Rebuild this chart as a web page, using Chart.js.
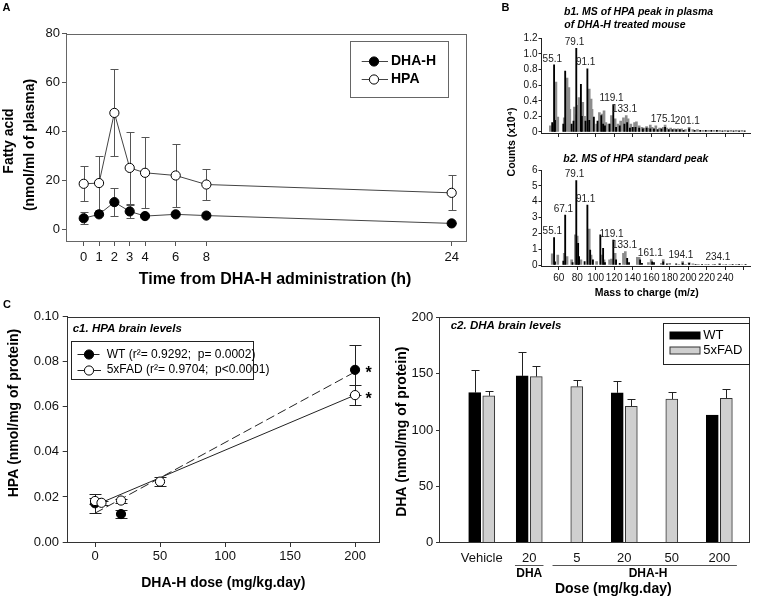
<!DOCTYPE html>
<html>
<head>
<meta charset="utf-8">
<script src="https://cdn.jsdelivr.net/npm/chart.js@4.4.0/dist/chart.umd.min.js"></script>
<style>
  body { margin: 0; background: #fff; }
  #fig { position: relative; width: 758px; height: 598px; overflow: hidden; font-family: 'Liberation Sans', Arial, sans-serif; }
  #fig canvas { position: absolute; }
  .tag { position: absolute; font-weight: bold; font-size: 11px; line-height: 11px; }
</style>
</head>
<body>
<div id="fig">
  <canvas id="panelA"></canvas>
  <canvas id="panelB1"></canvas>
  <canvas id="panelB2"></canvas>
  <canvas id="panelC1"></canvas>
  <canvas id="panelC2"></canvas>
  <div class="tag" style="left:2.5px;top:1.5px">A</div>
  <div class="tag" style="left:501.5px;top:1.5px">B</div>
  <div class="tag" style="left:3px;top:298.7px">C</div>
</div>
<script>
// --- A: plasma levels after DHA-H ---
const timeHours = [0, 1, 2, 3, 4, 6, 8, 24];
const dhahPlasma = [4.5, 6.1, 11.1, 7.3, 5.4, 6.1, 5.6, 2.4];
const dhahPlasmaSd = [2.5, 0, 5.8, 2.8, 0, 0, 0, 0];
const hpaPlasma = [18.6, 18.9, 47.6, 25.1, 23.1, 22.0, 18.3, 14.9];
const hpaPlasmaSd = [7.1, 11.2, 17.8, 14.8, 14.5, 12.7, 6.4, 7.1];
const plasmaTicks = [0, 20, 40, 60, 80];

// --- B: mass spectra, [m/z, counts x10^4] ---
const b1Black = [[53,0.12],[55,0.86],[56,0.15],[65,0.10],[67,0.78],[74,0.10],[76,0.14],[79,1.07],[84,0.61],[85,0.20],
  [89,0.14],[91,0.81],[93,0.15],[98,0.19],[102,0.14],[106,0.21],[108,0.10],[110,0.08],[115,0.10],[119,0.35],[122,0.06],
  [126,0.08],[131,0.10],[134,0.12],[137,0.05],[140,0.06],[143,0.06],[147,0.05],[151,0.04],[155,0.05],[159,0.04],[163,0.04],
  [167,0.03],[171,0.04],[175,0.06],[179,0.03],[183,0.03],[187,0.03],[191,0.03],[195,0.02],[201,0.04],[207,0.02],[213,0.02],
  [219,0.02],[225,0.02],[231,0.02],[237,0.015],[243,0.015],[249,0.015],[255,0.015],[261,0.015]];
const b1Grey = [[51,0.08],[54,0.10],[57,0.64],[59,0.19],[66,0.18],[69,0.69],[71,0.57],[72,0.29],[77,0.32],[78,0.22],
  [81,0.34],[82,0.44],[86,0.38],[88,0.20],[93,0.55],[95,0.42],[96,0.29],[101,0.10],[104,0.25],[107,0.23],[109,0.27],
  [111,0.12],[114,0.10],[117,0.21],[121,0.17],[124,0.10],[127,0.14],[130,0.18],[133,0.21],[135,0.17],[138,0.10],[142,0.12],
  [144,0.13],[147,0.08],[150,0.06],[152,0.05],[155,0.07],[157,0.05],[159,0.09],[161,0.06],[165,0.08],[169,0.05],[173,0.06],
  [175,0.09],[177,0.05],[181,0.05],[185,0.04],[189,0.04],[193,0.04],[197,0.03],[201,0.06],[205,0.03],[210,0.03],[216,0.02],
  [222,0.02],[228,0.02],[234,0.02],[240,0.02],[246,0.02],[252,0.02],[258,0.02]];
const b2Black = [[55,1.73],[56,0.20],[65,0.25],[67,3.16],[75,0.15],[79,5.33],[81,1.37],[82,0.53],[88,0.21],[91,3.79],
  [94,0.95],[97,0.32],[105,1.90],[108,1.05],[110,0.15],[119,1.58],[122,0.32],[126,0.10],[134,0.42],[136,0.15],[148,0.32],
  [150,0.10],[161,0.20],[163,0.15],[173,0.20],[177,0.08],[187,0.08],[194,0.12],[201,0.10],[208,0.05],[215,0.04],[222,0.03],
  [229,0.03],[234,0.06],[241,0.03],[248,0.02],[255,0.02],[262,0.02]];
const b2Grey = [[53,0.70],[59,0.63],[66,0.74],[69,0.53],[74,0.32],[78,1.90],[80,1.83],[84,0.32],[93,2.27],[95,0.63],
  [101,0.21],[107,0.63],[109,0.32],[115,0.32],[117,0.38],[121,0.74],[130,0.74],[132,0.84],[145,0.48],[147,0.48],[157,0.15],
  [160,0.35],[171,0.10],[173,0.35],[180,0.10],[190,0.05],[194,0.22],[197,0.05],[201,0.15],[205,0.07],[211,0.04],[219,0.04],
  [227,0.04],[234,0.08],[238,0.03],[245,0.03],[252,0.02],[258,0.03]];
const b1PeakLabels = ['55.1', '79.1', '91.1', '119.1', '133.1', '175.1', '201.1'];
const b2PeakLabels = ['55.1', '67.1', '79.1', '91.1', '119.1', '133.1', '161.1', '194.1', '234.1'];
const mzTicks = [60, 80, 100, 120, 140, 160, 180, 200, 220, 240, 260];
const b1Ticks = [0, 0.2, 0.4, 0.6, 0.8, 1.0, 1.2];
const b2Ticks = [0, 1, 2, 3, 4, 5, 6];

// --- C1: HPA brain levels vs dose ---
const wtDose = [0, 20, 200];
const wtHpa = [0.0172, 0.0124, 0.0764];
const wtHpaSem = [0.0043, 0.0019, 0.0111];
const wtSignif = [false, false, true];
const fadDose = [0, 5, 20, 50, 200];
const fadHpa = [0.0182, 0.0174, 0.0184, 0.0268, 0.0652];
const fadHpaSem = [0.0015, 0.0008, 0.0009, 0.0020, 0.0045];
const fadSignif = [false, false, false, false, true];
const fitDose = [0, 200];
const wtFit = [0.0128, 0.0755];
const fadFit = [0.0163, 0.0652];
const hpaTicks = [0, 0.02, 0.04, 0.06, 0.08, 0.10];
const doseTicks = [0, 50, 100, 150, 200];

// --- C2: DHA brain levels ---
const doseLabels = ['Vehicle', '20', '5', '20', '50', '200'];
const doseGroups = ['', 'DHA', 'DHA-H', 'DHA-H', 'DHA-H', 'DHA-H'];
const wtDha = [133.2, 148.0, null, 133.0, null, 113.2];
const wtDhaSem = [19.6, 21.6, null, 10.9, null, 0];
const fadDha = [130.3, 147.4, 138.5, 121.1, 127.4, 128.2];
const fadDhaSem = [4.2, 9.6, 5.7, 6.3, 6.4, 8.0];
const dhaTicks = [0, 50, 100, 150, 200];

const FONT = "'Liberation Sans', Arial, Helvetica, sans-serif";
const bold = s => `bold ${s}px ${FONT}`;
const boldItalic = s => `italic bold ${s}px ${FONT}`;
const plain = s => `${s}px ${FONT}`;
const UP = -Math.PI / 2;
Chart.defaults.font.family = FONT;

// error bars from dataset.errors, drawn behind the marks
Chart.register({
  id: 'errorBars',
  beforeDatasetsDraw(chart) {
    const ctx = chart.ctx, ys = chart.scales.y;
    chart.data.datasets.forEach((ds, i) => {
      if (!ds.errors) return;
      const meta = chart.getDatasetMeta(i);
      ctx.save();
      ctx.strokeStyle = ds.errorColor || '#000';
      ctx.lineWidth = 1;
      ctx.beginPath();
      meta.data.forEach((el, j) => {
        const v = ds.data[j].y, e = ds.errors[j];
        if (v == null || e == null) return;
        const x = Math.round(el.x) + 0.5;
        const top = Math.round(ys.getPixelForValue(v + e)) + 0.5;
        const bot = ds.upOnly ? el.y : Math.round(ys.getPixelForValue(v - e)) + 0.5;
        const c = ds.capHalf || 4;
        ctx.moveTo(x, top); ctx.lineTo(x, bot);
        ctx.moveTo(x - c, top); ctx.lineTo(x + c, top);
        if (!ds.upOnly) { ctx.moveTo(x - c, bot); ctx.lineTo(x + c, bot); }
      });
      ctx.stroke();
      ctx.restore();
    });
  }
});

// free text placed in page coordinates
const notes = items => ({
  id: 'notes',
  afterDraw(chart) {
    const ctx = chart.ctx, ox = chart.canvas.offsetLeft, oy = chart.canvas.offsetTop;
    items.forEach(n => {
      ctx.save();
      ctx.translate(n.x - ox, n.y - oy);
      if (n.rot) ctx.rotate(n.rot);
      ctx.font = n.font;
      ctx.fillStyle = '#000';
      ctx.textAlign = n.align || 'center';
      ctx.textBaseline = 'middle';
      ctx.fillText(n.text, 0, 0);
      ctx.restore();
    });
  }
});

const frame = color => ({
  id: 'frame',
  afterDatasetsDraw(chart) {
    const { left, top, right, bottom } = chart.chartArea, ctx = chart.ctx;
    ctx.save();
    ctx.strokeStyle = color;
    ctx.lineWidth = 1;
    ctx.strokeRect(Math.round(left) - 0.5, Math.round(top) + 0.5, Math.round(right - left), Math.round(bottom - top));
    ctx.restore();
  }
});

// boxed legend; text and styles come from the datasets
const boxLegend = spec => ({
  id: 'boxLegend',
  afterDraw(chart) {
    const ctx = chart.ctx, ox = chart.canvas.offsetLeft, oy = chart.canvas.offsetTop;
    const [bx, by, bw, bh] = spec.box;
    ctx.save();
    ctx.translate(-ox, -oy);
    ctx.fillStyle = '#fff';
    ctx.fillRect(bx, by, bw, bh);
    ctx.strokeStyle = spec.color;
    ctx.lineWidth = 1;
    ctx.strokeRect(Math.round(bx) + 0.5, Math.round(by) + 0.5, Math.round(bw), Math.round(bh));
    ctx.font = spec.font;
    ctx.textAlign = 'left';
    ctx.textBaseline = 'middle';
    spec.rows.forEach(r => {
      const ds = chart.data.datasets[r.ds];
      const y = Math.round(r.y) + 0.5;
      if (spec.swatch) {
        ctx.fillStyle = ds.backgroundColor;
        ctx.fillRect(spec.x0, y - spec.swatch / 2, spec.x1 - spec.x0, spec.swatch);
        ctx.strokeStyle = ds.borderColor;
        ctx.strokeRect(spec.x0, y - spec.swatch / 2, spec.x1 - spec.x0, spec.swatch);
      } else {
        const ls = chart.data.datasets[r.line != null ? r.line : r.ds];
        ctx.strokeStyle = ls.borderColor;
        ctx.setLineDash(ls.borderDash || []);
        ctx.beginPath(); ctx.moveTo(spec.x0, y); ctx.lineTo(spec.x1, y); ctx.stroke();
        ctx.setLineDash([]);
        ctx.beginPath();
        ctx.arc(spec.xm, y, ds.pointRadius, 0, 2 * Math.PI);
        ctx.fillStyle = ds.pointBackgroundColor; ctx.fill();
        ctx.strokeStyle = ds.pointBorderColor; ctx.stroke();
      }
      ctx.fillStyle = '#000';
      ctx.fillText(ds.label, spec.tx, r.y);
    });
    ctx.restore();
  }
});

// m/z labels above the tallest stick near each labelled mass
const peakLabels = (labels, sets) => ({
  id: 'peakLabels',
  afterDatasetsDraw(chart) {
    const xs = chart.scales.x, ys = chart.scales.y, ctx = chart.ctx;
    ctx.save();
    ctx.font = plain(10);
    ctx.fillStyle = '#222';
    ctx.textAlign = 'center';
    ctx.textBaseline = 'bottom';
    labels.forEach(t => {
      const mz = parseFloat(t);
      let h = 0;
      sets.forEach(s => s.forEach(([m, c]) => { if (Math.abs(m - mz) <= 1.2 && c > h) h = c; }));
      ctx.fillText(t, xs.getPixelForValue(mz - 2), ys.getPixelForValue(h) - 1);
    });
    ctx.restore();
  }
});

// treatment group lines under the dose axis of c2
const groupAxis = (groups, pads, lineY, textY) => ({
  id: 'groupAxis',
  afterDraw(chart) {
    const xs = chart.scales.x, ctx = chart.ctx, oy = chart.canvas.offsetTop;
    const runs = [];
    groups.forEach((g, i) => {
      if (!g) return;
      const last = runs[runs.length - 1];
      if (last && last.label === g && last.to === i - 1) last.to = i;
      else runs.push({ label: g, from: i, to: i });
    });
    ctx.save();
    ctx.strokeStyle = '#555';
    ctx.lineWidth = 1;
    ctx.font = bold(12);
    ctx.fillStyle = '#000';
    ctx.textAlign = 'center';
    ctx.textBaseline = 'middle';
    runs.forEach((r, k) => {
      const y = Math.round(lineY - oy) + 0.5;
      ctx.beginPath();
      ctx.moveTo(xs.getPixelForValue(r.from - pads[k][0]), y);
      ctx.lineTo(xs.getPixelForValue(r.to + pads[k][1]), y);
      ctx.stroke();
      ctx.fillText(r.label, xs.getPixelForValue((r.from + r.to) / 2), textY - oy);
    });
    ctx.restore();
  }
});

const stars = {
  id: 'stars',
  afterDatasetsDraw(chart) {
    const ctx = chart.ctx;
    ctx.save();
    ctx.font = bold(16);
    ctx.fillStyle = '#000';
    ctx.textAlign = 'center';
    ctx.textBaseline = 'middle';
    chart.data.datasets.forEach((ds, i) => {
      if (!ds.signif) return;
      chart.getDatasetMeta(i).data.forEach((el, j) => {
        if (ds.signif[j]) ctx.fillText('*', el.x + 13.5, el.y + 4);
      });
    });
    ctx.restore();
  }
};

function axis(min, max, values, o) {
  return {
    type: 'linear', min, max, offset: false,
    afterBuildTicks: s => { s.ticks = values.map(v => ({ value: v })); },
    border: { display: o.border !== false, color: o.color, width: 1 },
    grid: { display: true, drawOnChartArea: false, offset: false, drawTicks: o.tl > 0, tickLength: o.tl || 0, color: o.color },
    ticks: {
      display: o.labels !== false, autoSkip: false, maxRotation: 0, padding: o.pad,
      color: '#111', font: { family: FONT, size: o.size || 13 },
      callback: o.fmt || (v => String(v))
    }
  };
}

function panel(id, box, area, config) {
  const [bx, by, bw, bh] = box;
  const [l, t, r, b] = area;
  const canvas = document.getElementById(id);
  canvas.width = bw; canvas.height = bh;
  canvas.style.left = bx + 'px'; canvas.style.top = by + 'px';
  canvas.style.width = bw + 'px'; canvas.style.height = bh + 'px';
  const o = config.options;
  o.responsive = false;
  o.animation = false;
  o.events = [];
  o.layout = { padding: { top: t - by, right: bx + bw - r, left: 0, bottom: 0 } };
  o.scales.x.afterFit = s => { s.height = by + bh - b; };
  o.scales.y.afterFit = s => { s.width = l - bx; };
  o.plugins = { legend: { display: false }, tooltip: { enabled: false } };
  return new Chart(canvas, config);
}

const xy = (xs, ys) => xs.map((x, i) => ({ x, y: ys[i] }));
const sticks = list => list.map(([x, y]) => ({ x, y }));

// ---------- A ----------
panel('panelA', [0, 0, 490, 292], [67, 33.7, 467, 241], {
  type: 'scatter',
  data: {
    datasets: [
      { label: 'DHA-H', data: xy(timeHours, dhahPlasma), errors: dhahPlasmaSd, errorColor: '#555', capHalf: 4,
        showLine: true, borderColor: '#444', borderWidth: 1,
        pointRadius: 4.6, pointBackgroundColor: '#000', pointBorderColor: '#000', pointBorderWidth: 1 },
      { label: 'HPA', data: xy(timeHours, hpaPlasma), errors: hpaPlasmaSd, errorColor: '#555', capHalf: 4,
        showLine: true, borderColor: '#444', borderWidth: 1,
        pointRadius: 4.6, pointBackgroundColor: '#fff', pointBorderColor: '#000', pointBorderWidth: 1 }
    ]
  },
  options: {
    scales: {
      x: axis(-1.09, 25, timeHours, { color: '#555', tl: 5, pad: 3.5, border: false }),
      y: axis(-4.8, 80, plasmaTicks, { color: '#555', tl: 5, pad: 2, border: false })
    }
  },
  plugins: [
    frame('#666'),
    notes([
      { text: 'Fatty acid', x: 9, y: 141, rot: UP, font: bold(14) },
      { text: '(nmol/ml of plasma)', x: 30.3, y: 145, rot: UP, font: bold(14) },
      { text: 'Time from DHA-H administration (h)', x: 275, y: 279.3, font: bold(16) }
    ]),
    boxLegend({ box: [350, 40.7, 97.7, 56], color: '#666', font: bold(14), x0: 361.7, x1: 388, xm: 374, tx: 391,
      rows: [{ ds: 0, y: 61 }, { ds: 1, y: 79 }] })
  ]
});

// ---------- B1 / B2 ----------
function spectrum(id, box, area, yMin, yMax, yTicks, black, grey, labels, showX, texts) {
  return panel(id, box, area, {
    type: 'bar',
    data: {
      datasets: [
        { label: 'black', data: sticks(black), backgroundColor: '#000', barThickness: 1.2, grouped: false, borderWidth: 0 },
        { label: 'grey', data: sticks(grey), backgroundColor: '#8c8c8c', barThickness: 2, grouped: false, borderWidth: 0 }
      ]
    },
    options: {
      scales: {
        x: axis(41.4, 266.8, mzTicks, { color: '#222', tl: 4, pad: 2.3, size: 10, labels: showX,
          fmt: v => (v === 260 ? '' : String(v)) }),
        y: axis(yMin, yMax, yTicks, { color: '#222', tl: 3, pad: 1, size: 10,
          fmt: v => (v === 0 ? '0' : (yMax < 2 ? v.toFixed(1) : String(v))) })
      }
    },
    plugins: [peakLabels(labels, [black, grey]), notes(texts)]
  });
}

spectrum('panelB1', [490, 0, 268, 140], [541.5, 38.3, 750, 134.3], -0.013, 1.2, b1Ticks, b1Black, b1Grey, b1PeakLabels, false, [
  { text: 'b1. MS of HPA peak in plasma', x: 564, y: 12.3, align: 'left', font: boldItalic(10.5) },
  { text: 'of DHA-H treated mouse', x: 564.3, y: 25, align: 'left', font: boldItalic(10.5) }
]);
spectrum('panelB2', [490, 100, 268, 198], [541.5, 170, 750, 266], -0.063, 6, b2Ticks, b2Black, b2Grey, b2PeakLabels, true, [
  { text: 'b2. MS of HPA standard peak', x: 563.3, y: 159, align: 'left', font: boldItalic(10.5) },
  { text: 'Counts (x10\u2074)', x: 511.7, y: 142, rot: UP, font: bold(10.5) },
  { text: 'Mass to charge (m/z)', x: 646.7, y: 292.7, font: bold(10.5) }
]);

// ---------- C1 ----------
panel('panelC1', [0, 300, 392, 298], [67.7, 316.7, 380, 542], {
  type: 'scatter',
  data: {
    datasets: [
      { label: '5xFAD (r\u00b2= 0.9704;  p<0.0001)', data: xy(fadDose, fadHpa), errors: fadHpaSem, signif: fadSignif,
        errorColor: '#222', capHalf: 6, pointRadius: 4.6, pointBackgroundColor: '#fff', pointBorderColor: '#000', pointBorderWidth: 1 },
      { label: 'WT (r\u00b2= 0.9292;  p= 0.0002)', data: xy(wtDose, wtHpa), errors: wtHpaSem, signif: wtSignif,
        errorColor: '#222', capHalf: 6, pointRadius: 4.6, pointBackgroundColor: '#000', pointBorderColor: '#000', pointBorderWidth: 1 },
      { label: 'WT fit', data: xy(fitDose, wtFit), showLine: true, pointRadius: 0, borderColor: '#222', borderWidth: 1, borderDash: [9, 4] },
      { label: '5xFAD fit', data: xy(fitDose, fadFit), showLine: true, pointRadius: 0, borderColor: '#222', borderWidth: 1 }
    ]
  },
  options: {
    scales: {
      x: axis(-21, 219.2, doseTicks, { color: '#333', tl: 5, pad: 1.9, border: false }),
      y: axis(0, 0.1, hpaTicks, { color: '#333', tl: 5, pad: 3.7, border: false, fmt: v => v.toFixed(2) })
    }
  },
  plugins: [
    frame('#333'),
    stars,
    notes([
      { text: 'c1. HPA brain levels', x: 72.7, y: 329.3, align: 'left', font: boldItalic(11.5) },
      { text: 'HPA (nmol/mg of protein)', x: 14, y: 413, rot: UP, font: bold(14) },
      { text: 'DHA-H dose (mg/kg.day)', x: 223.3, y: 583.3, font: bold(14) }
    ]),
    boxLegend({ box: [71, 341, 182.3, 38.3], color: '#222', font: plain(12), x0: 77.5, x1: 101, xm: 89, tx: 106.7,
      rows: [{ ds: 1, line: 2, y: 354.3 }, { ds: 0, line: 3, y: 370 }] })
  ]
});

// ---------- C2 ----------
const pairShift = 0.148;
panel('panelC2', [392, 300, 366, 298], [440, 317.3, 750, 542.7], {
  type: 'bar',
  data: {
    datasets: [
      { label: 'WT', data: wtDha.map((v, i) => ({ x: fadDha[i] != null ? i - pairShift : i, y: v })),
        errors: wtDhaSem, upOnly: true, errorColor: '#222', capHalf: 4,
        backgroundColor: '#000', borderColor: '#000', borderWidth: 1, barThickness: 12, grouped: false },
      { label: '5xFAD', data: fadDha.map((v, i) => ({ x: wtDha[i] != null ? i + pairShift : i, y: v })),
        errors: fadDhaSem, upOnly: true, errorColor: '#222', capHalf: 4,
        backgroundColor: '#cfcfcf', borderColor: '#333', borderWidth: 1, barThickness: 12, grouped: false }
    ]
  },
  options: {
    scales: {
      x: axis(-0.878, 5.646, doseLabels.map((_, i) => i), { color: '#333', tl: 0, pad: 7.8, border: false,
        fmt: v => doseLabels[v] }),
      y: axis(0, 200, dhaTicks, { color: '#333', tl: 4, pad: 2.7, border: false })
    }
  },
  plugins: [
    frame('#333'),
    groupAxis(doseGroups, [[0.3, 0.3], [0.51, 0.37]], 565.3, 574),
    notes([
      { text: 'c2. DHA brain levels', x: 450.7, y: 326, align: 'left', font: boldItalic(11.5) },
      { text: 'DHA (nmol/mg of protein)', x: 401.7, y: 431.7, rot: UP, font: bold(14) },
      { text: 'Dose (mg/kg.day)', x: 613.3, y: 589, font: bold(14) }
    ]),
    boxLegend({ box: [663.3, 323.3, 86, 40.7], color: '#222', font: plain(13), swatch: 7, x0: 670, x1: 700, tx: 703.3,
      rows: [{ ds: 0, y: 335 }, { ds: 1, y: 350.3 }] })
  ]
});
</script>
</body>
</html>
